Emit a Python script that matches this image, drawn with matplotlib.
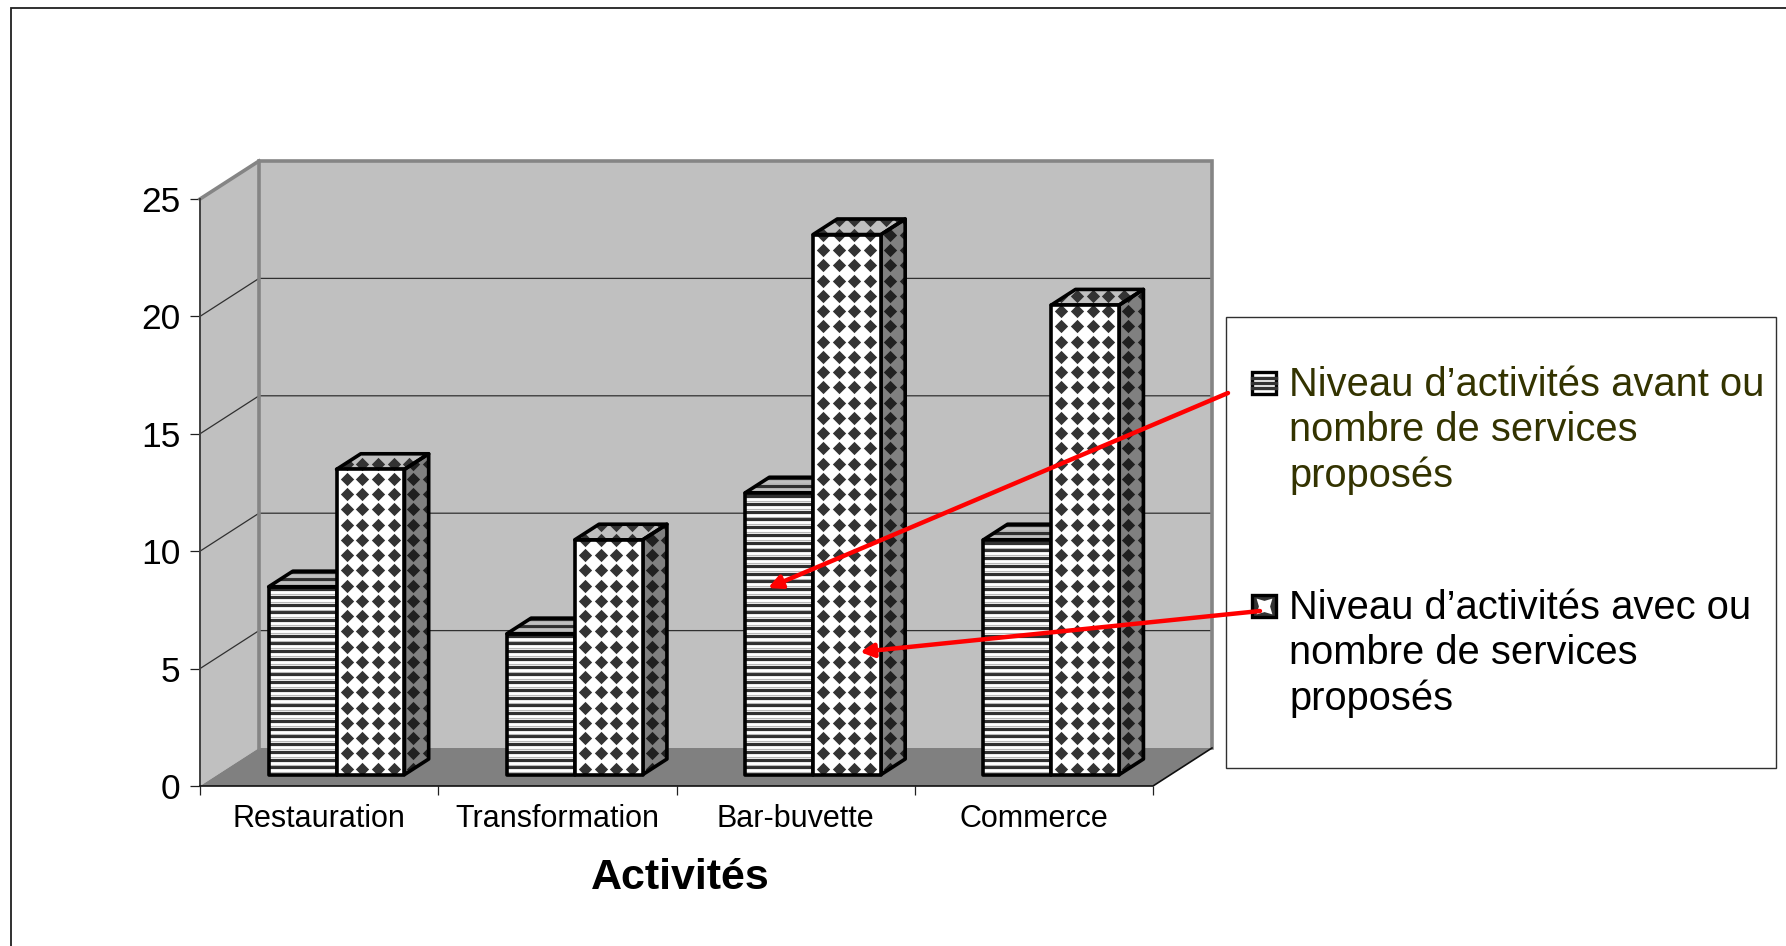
import numpy as np
import matplotlib
matplotlib.use("Agg")
import matplotlib.pyplot as plt
from matplotlib.patches import Polygon, Rectangle

plt.rcParams['font.family'] = ['Liberation Sans', 'DejaVu Sans']

# data
categories = ["Restauration", "Transformation", "Bar-buvette", "Commerce"]
avant = [8, 6, 12, 10]
avec = [13, 10, 23, 20]
legend_avant = "Niveau d’activités avant ou\nnombre de services\nproposés"
legend_avec = "Niveau d’activités avec ou\nnombre de services\nproposés"
x_title = "Activités"
y_ticks = [0, 5, 10, 15, 20, 25]

W, H = 1786, 946
fig = plt.figure(figsize=(W / 100, H / 100), dpi=100, facecolor="white")

# front plane of the fake 3D box
left, right, bottom, top = 200, 1153, 786, 199
ax = fig.add_axes([left / W, 1 - bottom / H, (right - left) / W, (bottom - top) / H])
ax.set_xlim(0, 4)
ax.set_ylim(0, 25)
ax.patch.set_visible(False)
for s in ax.spines.values():
    s.set_visible(False)

px_x = 4 / (right - left)   # data units per pixel
px_y = 25 / (bottom - top)
DX = 59 * px_x              # depth of the box
DY = 38 * px_y


def proj(x, y, d=0.0):
    return (x + d * DX, y + d * DY)


def poly(pts, fc, ec="none", lw=0, z=1):
    p = Polygon(pts, closed=True, facecolor=fc, edgecolor=ec, linewidth=lw,
                zorder=z, clip_on=False, joinstyle="round")
    ax.add_patch(p)
    return p


# walls and floor
poly([proj(0, 0), proj(0, 25), proj(0, 25, 1), proj(0, 0, 1)], "#c0c0c0", z=1)
poly([proj(0, 0, 1), proj(0, 25, 1), proj(4, 25, 1), proj(4, 0, 1)], "#c0c0c0", z=1)
poly([proj(0, 0), proj(0, 0, 1), proj(4, 0, 1), proj(4, 0)], "#808080", z=2)

# gridlines
for v in y_ticks[1:-1]:
    a, b, c = proj(0, v), proj(0, v, 1), proj(4, v, 1)
    ax.plot([a[0], b[0], c[0]], [a[1], b[1], c[1]], color="#303030", lw=0.9,
            zorder=2, clip_on=False)

# wall edges
ax.plot(*zip(proj(0, 0, 1), proj(0, 25, 1), proj(4, 25, 1), proj(4, 0, 1)),
        color="#858585", lw=2.6, zorder=3, clip_on=False, solid_joinstyle="miter")
ax.plot(*zip(proj(0, 25), proj(0, 25, 1)), color="#858585", lw=2.6, zorder=3, clip_on=False)
ax.plot(*zip(proj(0, 0), proj(0, 25)), color="#404040", lw=1.4, zorder=4, clip_on=False)
ax.plot(*zip(proj(0, 0), proj(4, 0), proj(4, 0, 1)), color="#101010", lw=1.2, zorder=4, clip_on=False)

# bars
BAR_L = 0.214
BAR_W = 0.285
D0, D1 = 0.30, 0.71
Z = 10
EDGE = 2.6


def stripes(patch, x0, x1, y0, y1, z):
    ys = np.arange(y0 - 2, y1 + 2, 7.75 * px_y)
    ln = ax.hlines(ys, x0, x1, color="#303030", lw=2.3, zorder=z)
    ln.set_clip_path(patch)
    ln2 = ax.hlines(ys + 2.8 * px_y, x0, x1, color="#b8b8b8", lw=0.8, zorder=z)
    ln2.set_clip_path(patch)


def diamonds(patch, x0, x1, y0, y1, c, z):
    xs = np.arange(x0, x1 + 16 * px_x, 15.67 * px_x)
    ys = np.arange(y0, y1 + 16 * px_y, 15.25 * px_y)
    gx, gy = np.meshgrid(xs, ys)
    sc = ax.scatter(gx.ravel(), gy.ravel(), marker="D", s=46, color=c, linewidths=0, zorder=z)
    sc.set_clip_path(patch)


for i in range(len(categories)):
    # first series, stripes
    xa = i + BAR_L
    xb = xa + BAR_W
    v = avant[i]
    front = [proj(xa, 0, D0), proj(xa, v, D0), proj(xb, v, D0), proj(xb, 0, D0)]
    topf = [proj(xa, v, D0), proj(xa, v, D1), proj(xb, v, D1), proj(xb, v, D0)]
    p = poly(front, "white", z=Z)
    stripes(p, proj(xa, 0, D0)[0], proj(xb, 0, D0)[0], proj(0, 0, D0)[1], proj(0, v, D0)[1], Z + 1)
    poly(front, "none", "black", EDGE, Z + 2)
    p = poly(topf, "#c0c0c0", z=Z)
    stripes(p, proj(xa, 0, D0)[0], proj(xb, 0, D1)[0], proj(0, v, D0)[1], proj(0, v, D1)[1], Z + 1)
    poly(topf, "none", "black", EDGE, Z + 2)

    # second series, diamonds
    xa2 = xb
    xb2 = xa2 + BAR_W
    v = avec[i]
    side = [proj(xb2, 0, D0), proj(xb2, v, D0), proj(xb2, v, D1), proj(xb2, 0, D1)]
    p = poly(side, "#808080", z=Z + 3)
    diamonds(p, proj(xb2, 0, D0)[0] + 9 * px_x, proj(xb2, 0, D1)[0],
             proj(0, 0, D0)[1] + 6 * px_y, proj(0, v, D1)[1], "#202020", Z + 4)
    poly(side, "none", "black", EDGE, Z + 5)
    topf = [proj(xa2, v, D0), proj(xa2, v, D1), proj(xb2, v, D1), proj(xb2, v, D0)]
    p = poly(topf, "#c0c0c0", z=Z + 3)
    diamonds(p, proj(xa2, 0, D0)[0] + 10 * px_x, proj(xb2, 0, D1)[0],
             proj(0, 0, D0)[1] + 6 * px_y, proj(0, v, D1)[1], "#333333", Z + 4)
    poly(topf, "none", "black", EDGE, Z + 5)
    front = [proj(xa2, 0, D0), proj(xa2, v, D0), proj(xb2, v, D0), proj(xb2, 0, D0)]
    p = poly(front, "white", z=Z + 6)
    diamonds(p, proj(xa2, 0, D0)[0] + 10 * px_x, proj(xb2, 0, D0)[0],
             proj(0, 0, D0)[1] + 6 * px_y, proj(0, v, D0)[1], "#333333", Z + 7)
    poly(front, "none", "black", EDGE, Z + 8)

# axes ticks and labels
ax.set_yticks(y_ticks)
ax.tick_params(axis="y", length=7.2, width=0.9, labelsize=25.5, pad=7, color="#202020")
ax.set_xticks(range(5))
ax.set_xticklabels([])
ax.tick_params(axis="x", which="major", length=6.5, width=0.9, color="#202020")
ax.set_xticks(np.arange(len(categories)) + 0.5, minor=True)
ax.set_xticklabels(categories, minor=True, fontsize=22)
ax.tick_params(axis="x", which="minor", length=0, pad=13)
ax.set_xlabel(x_title, fontsize=31, fontweight="bold", labelpad=17.5, color="black", x=0.504)

# overlay in pixel coordinates: frame, legend box, arrows
ov = fig.add_axes([0, 0, 1, 1], zorder=5)
ov.set_xlim(0, W)
ov.set_ylim(H, 0)
ov.axis("off")
ov.patch.set_visible(False)

ov.plot([11, 11, W], [H, 8, 8], color="#202020", lw=1.3, solid_joinstyle="miter")
ov.add_patch(Rectangle((1226, 317), 550, 451, facecolor="white", edgecolor="#303030", lw=1.0))

# legend keys
ov.add_patch(Rectangle((1252, 372), 24, 22, facecolor="white", edgecolor="black", lw=2.4))
for yy in [378, 383, 388]:
    ov.plot([1252, 1276], [yy, yy], color="#333333", lw=2.4)
ov.add_patch(Rectangle((1252, 595), 24, 22, facecolor="#333333", edgecolor="black", lw=2.4))
ov.scatter([1264], [606], marker=(4, 1, 45), s=260, color="white", linewidths=0, zorder=3)

ov.text(1289, 366, legend_avant, fontsize=28.7, color="#333300", va="top", ha="left", linespacing=1.24)
ov.text(1289, 589, legend_avec, fontsize=28.7, color="black", va="top", ha="left", linespacing=1.24)

# red arrows
for start, end in [((1228, 393), (768, 588)), ((1260, 611), (860, 652))]:
    ov.annotate("", xy=end, xytext=start, zorder=6,
                arrowprops=dict(arrowstyle="-|>,head_length=0.8,head_width=0.4",
                                color="#ff0000", lw=3.2, shrinkA=0, shrinkB=0))

fig.savefig("out.png", dpi=100)
